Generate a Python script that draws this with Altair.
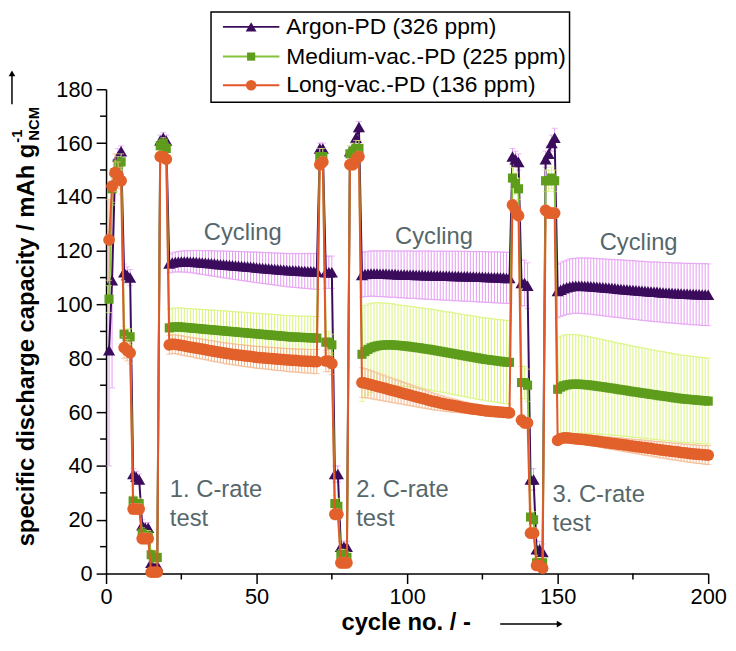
import altair as alt
import pandas as pd

FONT = "Liberation Sans"

SERIES = ["Argon-PD (326 ppm)", "Medium-vac.-PD (225 ppm)", "Long-vac.-PD (136 ppm)"]
SHAPES = ["triangle-up", "square", "circle"]
MARKER_COLORS = ["#3b0b5c", "#5e9c1c", "#e2602a"]
LINE_COLORS = ["#3b0b5c", "#86c23a", "#e2562a"]
ERR_COLORS = ["#e49cf2", "#d9f47a", "#f4b68c"]
MARKER_SIZES = [150, 85, 140]

# first cycle number of each segment: C-rate 1, cycling 1, C-rate 2, cycling 2, C-rate 3, cycling 3
SEGMENT_START = [1, 21, 71, 85, 135, 150]

ARGON_MEAN = [
    [83, 109, 150, 155, 157, 112, 111, 110, 37, 36, 35, 18, 17, 17, 4, 3, 3, 161, 162, 161],
    [115.2, 115.6, 115.8, 115.9, 116.0, 116.0, 116.0, 115.9, 115.9, 115.8,
     115.7, 115.6, 115.5, 115.4, 115.3, 115.2, 115.1, 115.0, 114.9, 114.8,
     114.7, 114.6, 114.5, 114.4, 114.3, 114.2, 114.1, 114.0, 113.9, 113.8,
     113.7, 113.6, 113.5, 113.4, 113.3, 113.2, 113.1, 113.0, 112.9, 112.8,
     112.7, 112.7, 112.6, 112.6, 112.5, 112.5, 112.4, 112.4, 112.3, 112.3],
    [158, 158, 112, 112, 112, 37, 37, 10, 10, 10, 157, 158, 162, 166],
    [111.0, 111.3, 111.4, 111.5, 111.5, 111.5, 111.4, 111.4, 111.4, 111.3,
     111.3, 111.3, 111.2, 111.2, 111.2, 111.1, 111.1, 111.1, 111.0, 111.0,
     111.0, 110.9, 110.9, 110.9, 110.8, 110.8, 110.8, 110.7, 110.7, 110.7,
     110.6, 110.6, 110.6, 110.5, 110.5, 110.5, 110.4, 110.4, 110.3, 110.3,
     110.3, 110.2, 110.2, 110.1, 110.1, 110.1, 110.0, 110.0, 109.9, 109.9],
    [155, 154, 153, 108, 108, 107, 35, 35, 9, 9, 8, 154, 156, 160, 162],
    [105.0, 105.5, 106.0, 106.4, 106.7, 106.9, 107.0, 107.0, 107.0, 106.9,
     106.9, 106.8, 106.7, 106.6, 106.5, 106.4, 106.3, 106.2, 106.1, 106.0,
     105.9, 105.8, 105.7, 105.6, 105.5, 105.4, 105.3, 105.2, 105.1, 105.0,
     104.9, 104.8, 104.7, 104.7, 104.6, 104.5, 104.4, 104.4, 104.3, 104.2,
     104.2, 104.1, 104.0, 104.0, 103.9, 103.9, 103.8, 103.8, 103.7, 103.7, 103.6],
]
ARGON_ERR = [
    [43, 40, 4, 3, 2, 3, 3, 3, 2, 2, 2, 2, 2, 2, 1, 1, 1, 2, 2, 2],
    [3.5, 3.6, 3.7, 3.8, 3.9, 4.0, 4.0, 4.1, 4.2, 4.3,
     4.4, 4.4, 4.5, 4.6, 4.7, 4.7, 4.8, 4.9, 5.0, 5.0,
     5.1, 5.2, 5.2, 5.3, 5.4, 5.4, 5.5, 5.5, 5.6, 5.7,
     5.7, 5.8, 5.8, 5.9, 5.9, 6.0, 6.0, 6.1, 6.1, 6.2,
     6.2, 6.3, 6.3, 6.4, 6.4, 6.5, 6.5, 6.6, 6.6, 6.7],
    [2, 2, 6, 6, 6, 3, 3, 2, 2, 2, 2, 2, 2, 2],
    [8.3, 8.3, 8.4, 8.4, 8.4, 8.5, 8.5, 8.5, 8.6, 8.6,
     8.6, 8.6, 8.7, 8.7, 8.7, 8.8, 8.8, 8.8, 8.8, 8.9,
     8.9, 8.9, 9.0, 9.0, 9.0, 9.0, 9.1, 9.1, 9.1, 9.1,
     9.2, 9.2, 9.2, 9.2, 9.3, 9.3, 9.3, 9.3, 9.3, 9.4,
     9.4, 9.4, 9.4, 9.4, 9.5, 9.5, 9.5, 9.5, 9.5, 9.5],
    [3, 3, 3, 8.5, 8.5, 8.5, 4, 4, 3, 3, 3, 3, 3, 3, 3.5],
    [10.0, 10.0, 10.1, 10.1, 10.2, 10.2, 10.2, 10.3, 10.3, 10.4,
     10.4, 10.4, 10.5, 10.5, 10.5, 10.6, 10.6, 10.6, 10.7, 10.7,
     10.7, 10.8, 10.8, 10.8, 10.9, 10.9, 10.9, 10.9, 11.0, 11.0,
     11.0, 11.0, 11.1, 11.1, 11.1, 11.1, 11.2, 11.2, 11.2, 11.2,
     11.3, 11.3, 11.3, 11.3, 11.4, 11.4, 11.4, 11.4, 11.5, 11.5, 11.5],
]

GREEN_MEAN = [
    [102, 143, 149, 152, 153, 89, 88, 88, 27, 26, 26, 15, 14, 14, 7, 6, 6, 159, 160, 158],
    [91.3, 91.6, 91.7, 91.7, 91.6, 91.5, 91.4, 91.3, 91.2, 91.1,
     91.0, 90.9, 90.8, 90.7, 90.6, 90.5, 90.4, 90.3, 90.2, 90.1,
     90.0, 89.9, 89.8, 89.7, 89.6, 89.5, 89.4, 89.3, 89.2, 89.1,
     89.0, 88.9, 88.8, 88.7, 88.6, 88.5, 88.4, 88.3, 88.2, 88.1,
     88.0, 87.9, 87.9, 87.8, 87.8, 87.7, 87.7, 87.6, 87.6, 87.5],
    [155, 155, 86, 86, 85, 26, 25, 7, 7, 6, 156, 157, 158, 158],
    [81.5, 82.5, 83.3, 83.9, 84.3, 84.6, 84.8, 84.9, 85.0, 85.0,
     85.0, 84.9, 84.8, 84.7, 84.6, 84.5, 84.3, 84.2, 84.0, 83.9,
     83.7, 83.5, 83.4, 83.2, 83.0, 82.8, 82.6, 82.4, 82.2, 82.0,
     81.8, 81.6, 81.4, 81.2, 81.0, 80.8, 80.6, 80.4, 80.2, 80.0,
     79.8, 79.6, 79.5, 79.3, 79.2, 79.0, 78.9, 78.7, 78.6, 78.5],
    [147, 145, 143, 71, 71, 70, 21, 20, 4, 4, 4, 146, 146, 147, 146],
    [68.5, 69.3, 69.8, 70.1, 70.3, 70.4, 70.4, 70.4, 70.3, 70.2,
     70.1, 70.0, 69.8, 69.7, 69.5, 69.4, 69.2, 69.0, 68.9, 68.7,
     68.5, 68.3, 68.2, 68.0, 67.8, 67.6, 67.5, 67.3, 67.1, 67.0,
     66.8, 66.6, 66.5, 66.3, 66.1, 66.0, 65.8, 65.7, 65.5, 65.3,
     65.2, 65.0, 64.9, 64.8, 64.7, 64.6, 64.5, 64.4, 64.3, 64.2, 64.1],
]
GREEN_ERR = [
    [5, 6, 4, 3, 3, 3, 3, 3, 2, 2, 2, 2, 2, 2, 2, 2, 2, 2, 2, 2],
    [7.0, 7.0, 7.0, 7.1, 7.1, 7.1, 7.1, 7.2, 7.2, 7.2,
     7.2, 7.3, 7.3, 7.3, 7.3, 7.4, 7.4, 7.4, 7.4, 7.5,
     7.5, 7.5, 7.5, 7.5, 7.6, 7.6, 7.6, 7.6, 7.6, 7.7,
     7.7, 7.7, 7.7, 7.7, 7.8, 7.8, 7.8, 7.8, 7.8, 7.8,
     7.9, 7.9, 7.9, 7.9, 7.9, 7.9, 8.0, 8.0, 8.0, 8.0],
    [3, 3, 4, 4, 4, 3, 3, 2, 2, 2, 3, 3, 3, 3],
    [17.5, 17.2, 16.9, 16.6, 16.3, 16.1, 15.9, 15.7, 15.5, 15.4,
     15.3, 15.2, 15.1, 15.0, 15.0, 15.0, 15.0, 15.0, 15.0, 15.0,
     15.0, 15.0, 15.0, 15.1, 15.1, 15.1, 15.1, 15.1, 15.1, 15.2,
     15.2, 15.2, 15.2, 15.2, 15.2, 15.3, 15.3, 15.3, 15.3, 15.3,
     15.3, 15.4, 15.4, 15.4, 15.4, 15.4, 15.5, 15.5, 15.5, 15.5],
    [4, 4, 4, 6, 6, 6, 3, 3, 2, 2, 2, 4, 4, 4, 4],
    [19.0, 18.9, 18.8, 18.7, 18.6, 18.5, 18.4, 18.3, 18.2, 18.1,
     18.0, 17.9, 17.8, 17.8, 17.7, 17.6, 17.5, 17.5, 17.4, 17.3,
     17.2, 17.2, 17.1, 17.0, 17.0, 16.9, 16.9, 16.8, 16.8, 16.7,
     16.7, 16.6, 16.6, 16.5, 16.5, 16.5, 16.4, 16.4, 16.3, 16.3,
     16.3, 16.2, 16.2, 16.2, 16.1, 16.1, 16.1, 16.0, 16.0, 16.0, 16.0],
]

ORANGE_MEAN = [
    [124, 144, 149, 148, 146, 84, 83, 82, 24, 24, 24, 13, 13, 13, 0.5, 0.5, 0.5, 155, 155, 154],
    [85.0, 85.3, 85.2, 85.0, 84.8, 84.6, 84.4, 84.2, 84.0, 83.8,
     83.6, 83.4, 83.2, 83.0, 82.8, 82.6, 82.4, 82.2, 82.0, 81.8,
     81.7, 81.5, 81.4, 81.2, 81.1, 80.9, 80.8, 80.7, 80.5, 80.4,
     80.3, 80.2, 80.1, 80.0, 79.9, 79.8, 79.7, 79.6, 79.5, 79.4,
     79.3, 79.2, 79.2, 79.1, 79.0, 79.0, 78.9, 78.9, 78.8, 78.8],
    [152, 153, 79, 79, 78, 22, 22, 4, 4, 4, 152, 152, 154, 155],
    [71.0, 70.8, 70.5, 70.2, 69.9, 69.6, 69.3, 69.0, 68.7, 68.4,
     68.1, 67.8, 67.5, 67.2, 66.9, 66.6, 66.3, 66.0, 65.7, 65.4,
     65.1, 64.8, 64.5, 64.2, 63.9, 63.7, 63.4, 63.2, 62.9, 62.7,
     62.5, 62.3, 62.1, 61.9, 61.7, 61.5, 61.3, 61.1, 61.0, 60.8,
     60.7, 60.5, 60.4, 60.3, 60.2, 60.1, 60.0, 59.9, 59.8, 59.7],
    [137, 135, 133, 57, 56, 56, 15, 15, 3, 3, 2, 135, 134, 134, 134],
    [49.5, 50.2, 50.4, 50.4, 50.3, 50.2, 50.1, 50.0, 49.9, 49.8,
     49.6, 49.5, 49.3, 49.2, 49.0, 48.9, 48.7, 48.6, 48.4, 48.3,
     48.1, 48.0, 47.8, 47.7, 47.5, 47.4, 47.2, 47.1, 46.9, 46.8,
     46.6, 46.5, 46.3, 46.2, 46.0, 45.9, 45.7, 45.6, 45.4, 45.3,
     45.2, 45.0, 44.9, 44.8, 44.6, 44.5, 44.4, 44.3, 44.2, 44.1, 44.0],
]
ORANGE_ERR = [
    [15, 6, 7, 5, 5, 4, 4, 4, 2, 2, 2, 2, 2, 2, 1, 1, 1, 1, 1, 1],
    [3.5, 3.5, 3.5, 3.5, 3.6, 3.6, 3.6, 3.6, 3.6, 3.7,
     3.7, 3.7, 3.7, 3.7, 3.8, 3.8, 3.8, 3.8, 3.8, 3.9,
     3.9, 3.9, 3.9, 3.9, 4.0, 4.0, 4.0, 4.0, 4.0, 4.1,
     4.1, 4.1, 4.1, 4.1, 4.2, 4.2, 4.2, 4.2, 4.2, 4.3,
     4.3, 4.3, 4.3, 4.3, 4.4, 4.4, 4.4, 4.4, 4.5, 4.5],
    [2, 2, 4, 4, 4, 2, 2, 2, 2, 2, 2, 2, 2, 2],
    [5.5, 5.4, 5.3, 5.2, 5.1, 5.0, 4.9, 4.8, 4.7, 4.6,
     4.5, 4.4, 4.3, 4.2, 4.1, 4.0, 3.9, 3.8, 3.7, 3.6,
     3.5, 3.4, 3.3, 3.2, 3.1, 3.0, 2.9, 2.8, 2.7, 2.6,
     2.5, 2.4, 2.3, 2.2, 2.1, 2.0, 2.0, 1.9, 1.9, 1.8,
     1.8, 1.7, 1.7, 1.6, 1.6, 1.6, 1.5, 1.5, 1.5, 1.5],
    [2, 2, 2, 2, 2, 2, 2, 2, 1, 1, 1, 2, 2, 2, 2],
    [1.5, 1.5, 1.5, 1.6, 1.6, 1.7, 1.7, 1.8, 1.8, 1.9,
     1.9, 2.0, 2.0, 2.0, 2.1, 2.1, 2.2, 2.2, 2.3, 2.3,
     2.4, 2.4, 2.5, 2.5, 2.5, 2.6, 2.6, 2.7, 2.7, 2.8,
     2.8, 2.8, 2.9, 2.9, 3.0, 3.0, 3.0, 3.1, 3.1, 3.1,
     3.2, 3.2, 3.2, 3.3, 3.3, 3.3, 3.4, 3.4, 3.4, 3.5, 3.5],
]

X_TICKS = [0, 50, 100, 150, 200]
X_MINOR = [25, 75, 125, 175]
Y_TICKS = [0, 20, 40, 60, 80, 100, 120, 140, 160, 180]
Y_MINOR = [10, 30, 50, 70, 90, 110, 130, 150, 170]

CYCLING_TEXT = ["Cycling", "Cycling", "Cycling"]
CYCLING_X = [45.4, 108.9, 176.9]
CYCLING_Y = [123.8, 122.6, 120.2]

CRATE_TEXT = ["1. C-rate", "test", "2. C-rate", "test", "3. C-rate", "test"]
CRATE_X = [21.2, 21.2, 83.1, 83.1, 148.3, 148.3]
CRATE_Y = [28.5, 17.5, 28.5, 17.5, 26.7, 15.7]

W, H = 608, 489


def build_frame(means, errs):
    rows = []
    for start, seg_m, seg_e in zip(SEGMENT_START, means, errs):
        for j, (m, e) in enumerate(zip(seg_m, seg_e)):
            rows.append({"cycle": start + j, "mean": m, "lo": m - e, "hi": m + e})
    return pd.DataFrame(rows)


frames = [build_frame(ARGON_MEAN, ARGON_ERR),
          build_frame(GREEN_MEAN, GREEN_ERR),
          build_frame(ORANGE_MEAN, ORANGE_ERR)]

x_scale = alt.Scale(domain=[0, 200], nice=False, zero=False)
y_scale = alt.Scale(domain=[0, 180], nice=False, zero=False)
x_axis = alt.Axis(values=X_TICKS, title=None, labelFlush=False, labelPadding=3)
y_axis = alt.Axis(values=Y_TICKS, title=None, labelPadding=4)


def X(field):
    return alt.X(field, type="quantitative", scale=x_scale, axis=x_axis)


def Y(field):
    return alt.Y(field, type="quantitative", scale=y_scale, axis=y_axis)


layers = []

# minor ticks
minor_y = pd.DataFrame({"v": Y_MINOR})
minor_x = pd.DataFrame({"v": X_MINOR})
layers.append(alt.Chart(minor_y).mark_rule(color="black", strokeWidth=1.5).encode(
    y=Y("v"), x=alt.value(-6), x2=alt.value(0)))
layers.append(alt.Chart(minor_x).mark_rule(color="black", strokeWidth=1.5).encode(
    x=X("v"), y=alt.value(H), y2=alt.value(H + 6)))

for i, df in enumerate(frames):
    base = alt.Chart(df)
    layers.append(base.mark_rule(color=ERR_COLORS[i], strokeWidth=1).encode(
        x=X("cycle"), y=Y("lo"), y2=alt.Y2("hi")))
    layers.append(base.mark_tick(color=ERR_COLORS[i], orient="horizontal", size=6, thickness=1).encode(
        x=X("cycle"), y=Y("hi")))
    layers.append(base.mark_tick(color=ERR_COLORS[i], orient="horizontal", size=6, thickness=1).encode(
        x=X("cycle"), y=Y("lo")))
    layers.append(base.mark_line(color=LINE_COLORS[i], strokeWidth=2).encode(
        x=X("cycle"), y=Y("mean")))
    layers.append(base.mark_point(shape=SHAPES[i], filled=True, size=MARKER_SIZES[i],
                                  color=MARKER_COLORS[i], opacity=1).encode(
        x=X("cycle"), y=Y("mean")))

# annotations inside the plot
cyc_df = pd.DataFrame({"t": CYCLING_TEXT, "x": CYCLING_X, "y": CYCLING_Y})
layers.append(alt.Chart(cyc_df).mark_text(font=FONT, fontSize=24, color="#56676b",
                                          align="center", baseline="alphabetic").encode(
    x=X("x"), y=Y("y"), text="t:N"))
cr_df = pd.DataFrame({"t": CRATE_TEXT, "x": CRATE_X, "y": CRATE_Y})
layers.append(alt.Chart(cr_df).mark_text(font=FONT, fontSize=24, color="#56676b",
                                         align="left", baseline="alphabetic").encode(
    x=X("x"), y=Y("y"), text="t:N"))

dummy = pd.DataFrame({"k": [0]})


def txt(text, x, y, size, bold=False, angle=0, align="left", baseline="alphabetic"):
    return alt.Chart(dummy).mark_text(text=text, font=FONT, fontSize=size,
                                      fontWeight="bold" if bold else "normal",
                                      angle=angle, align=align, baseline=baseline,
                                      color="black").encode(x=alt.value(x), y=alt.value(y))


# y axis title with super/subscript
layers.append(txt("specific discharge capacity / mAh g", -73, 55, 24, bold=True, angle=270, align="right"))
layers.append(txt("-1", -85, 54, 15, bold=True, angle=270, align="left"))
layers.append(txt("NCM", -68, 52, 15, bold=True, angle=270, align="left"))
# y arrow
layers.append(alt.Chart(dummy).mark_rule(color="black", strokeWidth=1.5).encode(
    x=alt.value(-95), y=alt.value(15), y2=alt.value(-14)))
layers.append(alt.Chart(dummy).mark_point(shape="triangle-up", filled=True, size=45,
                                          color="black", opacity=1).encode(
    x=alt.value(-95), y=alt.value(-16)))

# x axis title
layers.append(txt("cycle no. / -", 303, 546, 24, bold=True, align="center"))
layers.append(alt.Chart(dummy).mark_rule(color="black", strokeWidth=1.5).encode(
    x=alt.value(398), x2=alt.value(456), y=alt.value(540)))
layers.append(alt.Chart(dummy).mark_point(shape="triangle-right", filled=True, size=45,
                                          color="black", opacity=1).encode(
    x=alt.value(458), y=alt.value(540)))

# legend box
layers.append(alt.Chart(dummy).mark_rect(fill="white", stroke="black", strokeWidth=1.5).encode(
    x=alt.value(106), x2=alt.value(468), y=alt.value(-78), y2=alt.value(13)))
LEG_Y = [-63, -33, -4]
for i, name in enumerate(SERIES):
    layers.append(alt.Chart(dummy).mark_rule(color=LINE_COLORS[i], strokeWidth=2).encode(
        x=alt.value(118), x2=alt.value(175), y=alt.value(LEG_Y[i])))
    layers.append(alt.Chart(dummy).mark_point(shape=SHAPES[i], filled=True, size=MARKER_SIZES[i] * 0.8,
                                              color=MARKER_COLORS[i], opacity=1).encode(
        x=alt.value(146.5), y=alt.value(LEG_Y[i])))
    layers.append(txt(name, 182, LEG_Y[i], 23, baseline="middle"))

chart = alt.layer(*layers).properties(
    width=W, height=H,
    padding={"left": 99, "top": 79, "right": 20, "bottom": 62},
    autosize=alt.AutoSizeParams(type="none"),
).configure_view(stroke=None).configure_axis(
    domainColor="black", domainWidth=1.5, tickColor="black", tickWidth=1.5, tickSize=10,
    labelFont=FONT, labelFontSize=22, labelColor="black", grid=False,
)

chart.save("out.html", embed_options={"renderer": "svg", "actions": False})
